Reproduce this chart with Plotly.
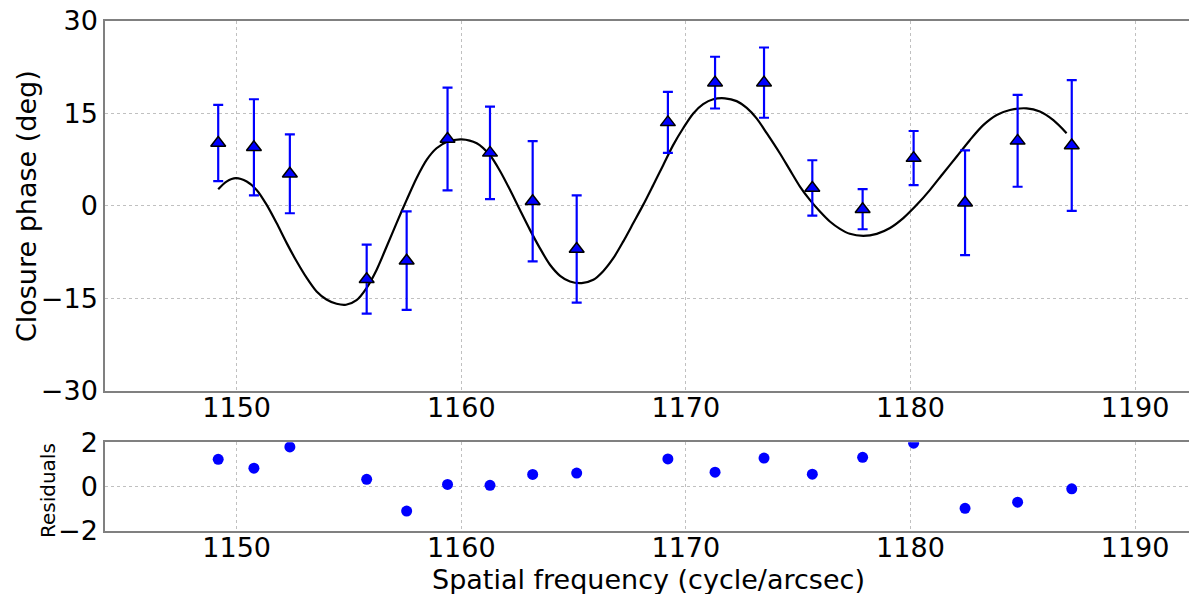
import plotly.graph_objects as go

# Measured closure phases with 1-sigma errors
freq = [1149.18, 1150.77, 1152.37, 1155.79, 1157.57, 1159.39, 1161.28, 1163.18, 1165.14,
        1169.20, 1171.30, 1173.48, 1175.63, 1177.87, 1180.14, 1182.43, 1184.77, 1187.18]
phase = [10.2, 9.5, 5.2, -11.9, -8.9, 10.85, 8.6, 0.75, -7.0,
         13.55, 20.0, 20.0, 2.9, -0.55, 7.75, 0.5, 10.55, 9.8]
phase_err = [6.2, 7.8, 6.4, 5.6, 8.0, 8.35, 7.5, 9.75, 8.7,
             4.95, 4.2, 5.7, 4.5, 3.25, 4.4, 8.5, 7.45, 10.6]

# Best-fit model curve
model_freq = [1149.18, 1149.55, 1149.97, 1150.45, 1150.89, 1151.34, 1151.78, 1152.23,
              1152.67, 1153.12, 1153.56, 1154.00, 1154.45, 1154.87, 1155.34, 1155.79,
              1156.23, 1156.68, 1157.12, 1157.57, 1158.01, 1158.46, 1158.90, 1159.38,
              1160.02, 1160.69, 1161.28, 1161.72, 1162.17, 1162.61, 1163.06, 1163.50,
              1163.95, 1164.40, 1164.84, 1165.36, 1165.88, 1166.32, 1166.77, 1167.21,
              1167.66, 1168.10, 1168.55, 1168.99, 1169.44, 1169.88, 1170.33, 1170.77,
              1171.22, 1171.74, 1172.26, 1172.71, 1173.15, 1173.60, 1174.19, 1174.63,
              1175.08, 1175.52, 1175.97, 1176.41, 1176.86, 1177.30, 1177.90, 1178.50,
              1179.09, 1179.68, 1180.28, 1180.87, 1181.46, 1182.06, 1182.65, 1183.24,
              1183.84, 1184.43, 1185.17, 1185.76, 1186.36, 1186.95]
model_phase = [2.7, 3.94, 4.49, 3.94, 2.59, 0.16, -2.8, -6.05,
               -9.0, -11.7, -13.9, -15.2, -15.9, -16.05, -15.3, -13.3,
               -10.4, -6.6, -2.8, 0.97, 4.49, 7.46, 9.35, 10.4,
               10.8, 10.16, 8.2, 5.7, 2.6, -0.65, -3.9, -6.86,
               -9.56, -11.35, -12.27, -12.53, -12.0, -10.6, -8.5, -5.8,
               -2.8, 0.16, 3.4, 6.6, 9.9, 12.6, 15.0, 16.5,
               17.3, 17.46, 17.0, 15.9, 14.2, 11.8, 8.5, 5.83,
               3.13, 0.97, -0.92, -2.54, -3.73, -4.54, -4.86, -4.54,
               -3.6, -2.0, 0.16, 2.6, 5.3, 8.0, 10.7, 13.1,
               14.75, 15.56, 15.83, 15.3, 13.9, 11.8]

# Fit residuals
residuals = [1.23, 0.83, 1.79, 0.33, -1.10, 0.10, 0.06, 0.55, 0.61,
             1.25, 0.65, 1.29, 0.56, 1.32, 1.96, -0.98, -0.70, -0.10]

x_ticks = [1150, 1160, 1170, 1180, 1190]
phase_ticks = [-30, -15, 0, 15, 30]
resid_ticks = [-2, 0, 2]

FONT = "DejaVu Sans"
AXIS_COLOR = "#808080"
GRID_COLOR = "#c0c0c0"
X_RANGE = [1144.14, 1192.4]

fig = go.Figure()

fig.add_trace(go.Scatter(
    x=model_freq, y=model_phase, mode="lines",
    line=dict(color="black", width=2.2, shape="spline", smoothing=0.8),
    xaxis="x", yaxis="y", showlegend=False, hoverinfo="skip",
))

fig.add_trace(go.Scatter(
    x=freq, y=phase, mode="markers",
    marker=dict(symbol="triangle-up", size=13, color="#0000ff",
                line=dict(color="black", width=1.5)),
    error_y=dict(type="data", array=phase_err, visible=True,
                 color="#0000ff", thickness=2.2, width=5),
    xaxis="x", yaxis="y", showlegend=False,
))

fig.add_trace(go.Scatter(
    x=freq, y=residuals, mode="markers",
    marker=dict(symbol="circle", size=11, color="#0000ff"),
    xaxis="x2", yaxis="y2", showlegend=False, cliponaxis=True,
))

common_x = dict(
    range=X_RANGE, tickvals=x_ticks, ticks="", showgrid=True, automargin=False,
    gridcolor=GRID_COLOR, griddash="dot", gridwidth=1, ticklabelstandoff=-8,
    showline=True, linecolor=AXIS_COLOR, linewidth=1.5, mirror=True,
    zeroline=False, tickfont=dict(family=FONT, size=27, color="black"),
)
common_y = dict(
    ticks="", showgrid=True, automargin=False,
    gridcolor=GRID_COLOR, griddash="dot", gridwidth=1,
    showline=True, linecolor=AXIS_COLOR, linewidth=1.5, mirror=False,
    zeroline=False, tickfont=dict(family=FONT, size=27, color="black"),
)

# Axis titles placed in paper coordinates
titles = [
    dict(text="Closure phase (deg)", x=-0.0729, y=0.653, textangle=-90, size=27),
    dict(text="Residuals", x=-0.0526, y=0.175, textangle=-90, size=20),
    dict(text="Spatial frequency (cycle/arcsec)", x=0.501, y=0.024, textangle=0, size=27),
]
annotations = [
    dict(text=t["text"], x=t["x"], y=t["y"], xref="paper", yref="paper",
         xanchor="center", yanchor="middle", textangle=t["textangle"],
         showarrow=False, font=dict(family=FONT, size=t["size"], color="black"))
    for t in titles
]

fig.update_layout(
    width=1189, height=594,
    margin=dict(l=105, r=0, t=0, b=0, autoexpand=False),
    paper_bgcolor="white", plot_bgcolor="white",
    font=dict(family=FONT, color="black"),
    xaxis=dict(**common_x, domain=[0, 1], anchor="y"),
    yaxis=dict(**common_y, domain=[0.3423, 0.9646], anchor="x",
               range=[-30, 30], tickvals=phase_ticks),
    xaxis2=dict(**common_x, domain=[0, 1], anchor="y2"),
    yaxis2=dict(**common_y, domain=[0.1061, 0.2554], anchor="x2",
                range=[-2, 2], tickvals=resid_ticks),
    annotations=annotations,
)

fig.write_html("out.html")
